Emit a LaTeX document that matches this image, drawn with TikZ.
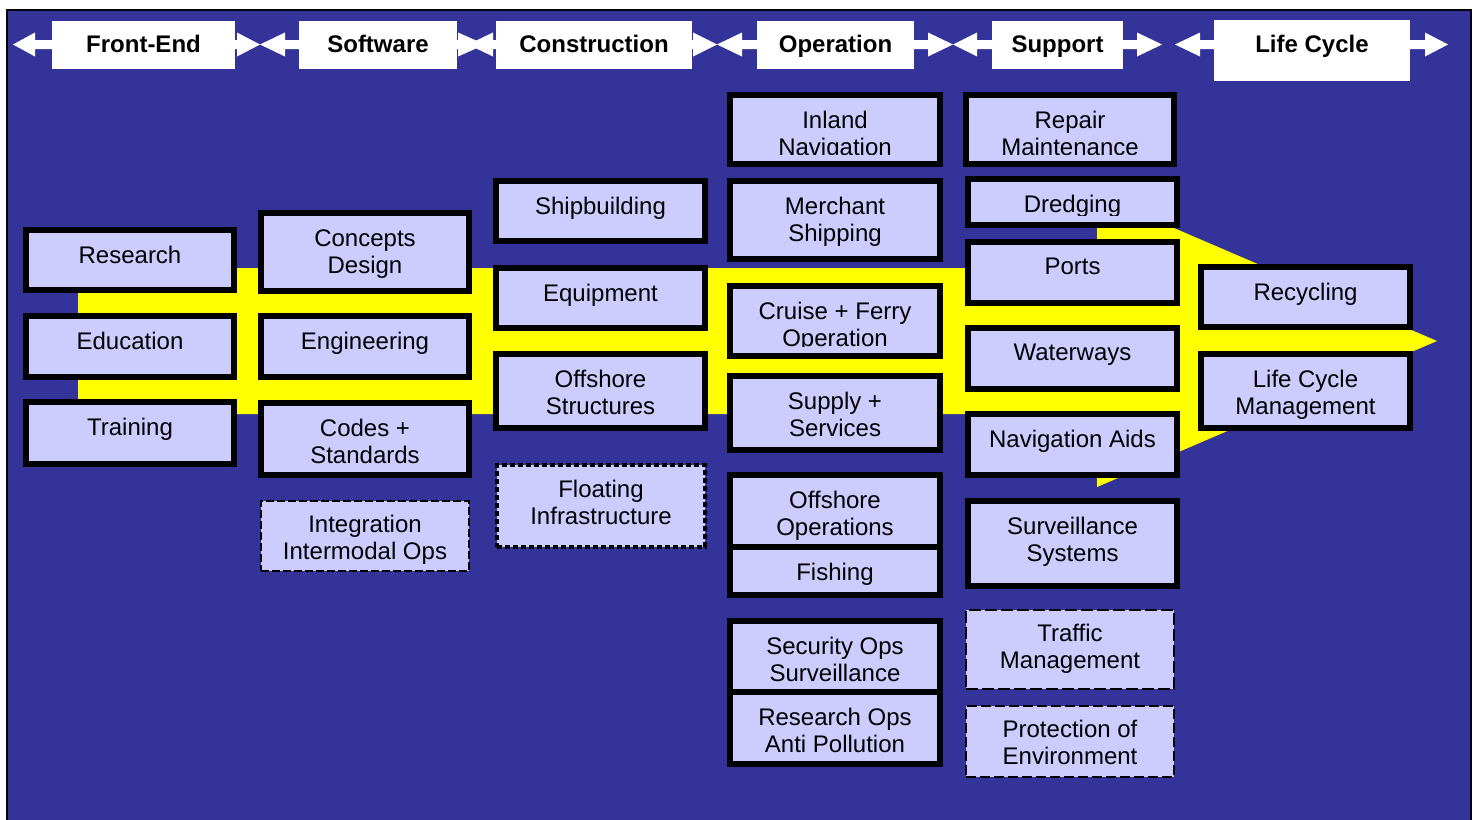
\documentclass[tikz,border=0pt]{standalone}
\usepackage{fontspec}
\setmainfont{Liberation Sans}
\usetikzlibrary{fit,calc}
\definecolor{navy}{HTML}{333399}
\definecolor{lav}{HTML}{CCCCFF}
\definecolor{yel}{HTML}{FFFF00}
\tikzset{
  thickbox/.style={draw=black, line width=3pt, fill=lav, inner sep=0pt},
  dashbox/.style={draw=black, line width=0.7pt, dash pattern=on 4pt off 1.5pt, fill=lav, inner sep=0pt},
  dashboxb/.style={draw=black, line width=0.7pt, dash pattern=on 6pt off 2pt, fill=lav, inner sep=0pt},
  dashboxc/.style={draw=black, line width=1pt, dash pattern=on 5pt off 2pt, fill=lav, inner sep=0pt},
  dotbox/.style={draw=black, line width=2.4pt, dash pattern=on 2.3pt off 1.7pt, fill=lav, inner sep=0pt},
  hdr/.style={fill=white, draw=none, inner sep=0pt},
  txt/.style={anchor=north, inner sep=0pt, align=center, font=\fontsize{12}{13.5}\selectfont},
  htxt/.style={anchor=north, inner sep=0pt, font=\fontsize{12}{13.5}\selectfont\bfseries},
}
% box: [text offset], style, name, x1, y1, x2, y2, text
\newcommand\bx[8][19]{%
  \node[#2, fit={(#4+3,#5+3) (#6-3,#7-3)}] (#3) {};
  \node[txt] (#3t) at ($(#3.north)+(0,#1)$) {#8};}
% clipped box: style, name, x1, y1, x2, y2, text, clip-y
\newcommand\bxc[8]{%
  \node[#1, fit={(#3+3,#4+3) (#5-3,#6-3)}] (#2) {};
  \begin{scope}\clip (#3,#4) rectangle (#5,#8);
  \node[txt] (#2t) at ($(#2.north)+(0,19)$) {#7};
  \end{scope}}
% header: name, x1, y1, x2, y2, text
\newcommand\hd[6]{%
  \node[hdr, fit={(#2,#3) (#4,#5)}] (#1) {};
  \node[htxt] (#1t) at (#1.center |- 0,35) {#6};}
\newcommand\larr[3]{\fill[white] (#1,44.5) -- (#2,32.5) -- (#2,40) -- (#3,40) -- (#3,49) -- (#2,49) -- (#2,56.5) -- cycle;}
\newcommand\rarr[3]{\fill[white] (#3,44.5) -- (#2,32.5) -- (#2,40) -- (#1,40) -- (#1,49) -- (#2,49) -- (#2,56.5) -- cycle;}
\begin{document}
\begin{tikzpicture}[x=0.5pt,y=-0.5pt]
\useasboundingbox (0,0) rectangle (1476,819);
\fill[white] (0,0) rectangle (1476,819);
\begin{scope}
\clip (0,0) rectangle (1476,819);
\draw[black, line width=0.8pt, fill=navy] (7,10) rectangle (1471,840);
\end{scope}
% yellow arrow
\fill[yel] (78,268) -- (1097,268) -- (1097,195) -- (1437,341) -- (1097,487) -- (1097,414) -- (78,414) -- cycle;
% header arrows
\larr{13}{35}{54}   \rarr{233}{237}{260}
\larr{260}{285}{301} \rarr{455}{458}{485}
\larr{468}{493}{498} \rarr{690}{693}{717}
\larr{717}{742}{759} \rarr{912}{928}{953}
\larr{953}{977}{994} \rarr{1121}{1137}{1162}
\larr{1175}{1200}{1216} \rarr{1408}{1425}{1448}
% headers
\hd{h1}{52}{21}{235}{69}{Front-End}
\hd{h2}{299}{21}{457}{69}{Software}
\hd{h3}{496}{21}{692}{69}{Construction}
\hd{h4}{757}{21}{914}{69}{Operation}
\hd{h5}{992}{21}{1123}{69}{Support}
\hd{h6}{1214}{20}{1410}{81}{Life Cycle}
% column 1
\bx{thickbox}{research}{23}{227}{237}{293}{Research}
\bx{thickbox}{education}{23}{313}{237}{380}{Education}
\bx{thickbox}{training}{23}{399}{237}{467}{Training}
% column 2
\bx{thickbox}{concepts}{258}{210}{472}{294}{Concepts\\Design}
\bx{thickbox}{engineering}{258}{313}{472}{380}{Engineering}
\bx{thickbox}{codes}{258}{400}{472}{478}{Codes +\\Standards}
\bx[14]{dashbox}{integration}{258}{498}{472}{574}{Integration\\Intermodal Ops}
% column 3
\bx{thickbox}{shipbuilding}{493}{178}{708}{244}{Shipbuilding}
\bx{thickbox}{equipment}{493}{265}{708}{331}{Equipment}
\bx{thickbox}{offstruct}{493}{351}{708}{431}{Offshore\\Structures}
\bx[17]{dotbox}{floating}{494}{462}{708}{550}{Floating\\Infrastructure}
% column 4
\bxc{thickbox}{inland}{727}{92}{943}{167}{Inland\\Navigation}{154}
\bx{thickbox}{merchant}{727}{178}{943}{262}{Merchant\\Shipping}
\bxc{thickbox}{cruise}{727}{283}{943}{359}{Cruise + Ferry\\Operation}{346}
\bx{thickbox}{supply}{727}{373}{943}{453}{Supply +\\Services}
\bx{thickbox}{offops}{727}{472}{943}{552}{Offshore\\Operations}
\bxc{thickbox}{fishing}{727}{544}{943}{598}{Fishing}{585}
\bx{thickbox}{security}{727}{618}{943}{695}{Security Ops\\Surveillance}
\bx{thickbox}{researchops}{727}{689}{943}{767}{Research Ops\\Anti Pollution}
% column 5
\bxc{thickbox}{repair}{963}{92}{1177}{167}{Repair\\Maintenance}{154}
\bxc{thickbox}{dredging}{965}{176}{1180}{228}{Dredging}{215}
\bx{thickbox}{ports}{965}{239}{1180}{306}{Ports}
\bx{thickbox}{waterways}{965}{325}{1180}{392}{Waterways}
\bx{thickbox}{navaids}{965}{411}{1180}{478}{Navigation Aids}
\bx{thickbox}{surveillance}{965}{498}{1180}{589}{Surveillance\\Systems}
\bx[14]{dashboxb}{traffic}{963}{607}{1177}{692}{Traffic\\Management}
\bx[15]{dashboxc}{protection}{963}{703}{1177}{780}{Protection of\\Environment}
% column 6
\bx{thickbox}{recycling}{1198}{264}{1413}{330}{Recycling}
\bx{thickbox}{lcm}{1198}{351}{1413}{431}{Life Cycle\\Management}
\end{tikzpicture}
\end{document}
